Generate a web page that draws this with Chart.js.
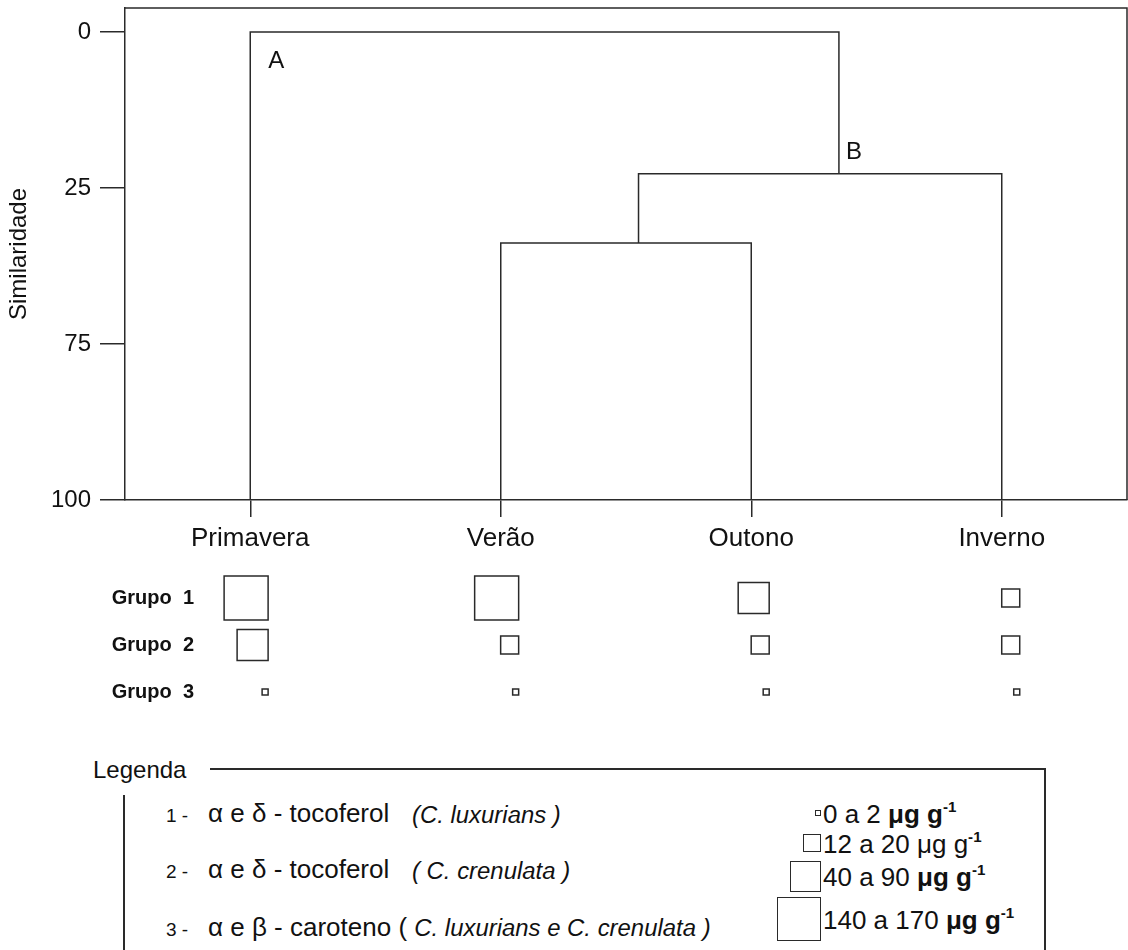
<!DOCTYPE html>
<html>
<head>
<meta charset="utf-8">
<script src="https://cdn.jsdelivr.net/npm/chart.js@4.4.0/dist/chart.umd.min.js"></script>
<style>
    body { margin: 0; background: #fff; }
    #page { position: relative; width: 1128px; height: 950px; overflow: hidden; background: #fff;
            font-family: "Liberation Sans", Arial, sans-serif; color: #111; }
    #dendro { position: absolute; left: 0; top: 0; }
    #groups { position: absolute; left: 0; top: 560px; }
    .rule { position: absolute; background: #2a2a2a; }
    .txt { position: absolute; white-space: pre; line-height: 1; }
    .txt i { font-size: 92%; }
    .sq { position: absolute; border: 1.5px solid #2a2a2a; box-sizing: border-box; }
    sup { font-size: 58%; vertical-align: 0.75em; line-height: 0; font-weight: bold; }
</style>
</head>
<body>
<div id="page">
    <canvas id="dendro" width="1128" height="560"></canvas>
    <canvas id="groups" width="1128" height="160"></canvas>
</div>
<script>
// Seasons (leaves of the dendrogram)
const seasons = ['Primavera', 'Verão', 'Outono', 'Inverno'];

// Y axis ticks (evenly spaced, labelled as in the figure)
const yTickValues = [0, 33.3, 66.7, 100];
const yTickLabels = ['0', '25', '75', '100'];

// Dendrogram links: Verão-Outono, B, A
const linkNames = ['', 'B', 'A'];
const linkHeights = [45.1, 30.3, 0];
const linkLeftX = [2, 2.55, 1];
const linkRightX = [3, 4, 3.35];
const linkLeftBase = [100, 45.1, 100];
const linkRightBase = [100, 100, 30.3];

// Size class (1..4) of each group per season
const groupNames = ['Grupo  1', 'Grupo  2', 'Grupo  3'];
const grupo1Classes = [4, 4, 3, 2];
const grupo2Classes = [3, 2, 2, 2];
const grupo3Classes = [1, 1, 1, 1];

// Legend
const classLabels = ['0 a 2', '12 a 20', '40 a 90', '140 a 170'];
const compoundNames = ['α e δ - tocoferol', 'α e δ - tocoferol', 'α e β - caroteno ('];
const speciesNames = ['(C. luxurians )', '( C. crenulata )', 'C. luxurians e C. crenulata )'];

const FONT = '"Liberation Sans", Arial, sans-serif';
const INK = '#2a2a2a';
const classSide = { 1: 6, 2: 18, 3: 31, 4: 44 };

// Build link datasets (U shaped lines)
const linkDatasets = linkHeights.map((h, i) => ({
    label: linkNames[i] || 'link',
    data: [
        { x: linkLeftX[i], y: linkLeftBase[i] },
        { x: linkLeftX[i], y: h },
        { x: linkRightX[i], y: h },
        { x: linkRightX[i], y: linkRightBase[i] }
    ],
    borderColor: INK,
    borderWidth: 1.5,
    pointRadius: 0,
    tension: 0,
    fill: false
}));

// Frame on top and right of the plot
const framePlugin = {
    id: 'frame',
    afterDraw(chart) {
        const { ctx, chartArea: a } = chart;
        ctx.save();
        ctx.strokeStyle = INK;
        ctx.lineWidth = 1.5;
        ctx.beginPath();
        ctx.moveTo(a.left, a.top);
        ctx.lineTo(a.right, a.top);
        ctx.lineTo(a.right, a.bottom);
        ctx.stroke();
        ctx.restore();
    }
};

// Cluster letters A and B
const letterPlugin = {
    id: 'letters',
    afterDatasetsDraw(chart) {
        const { ctx, scales: { x, y } } = chart;
        ctx.save();
        ctx.fillStyle = '#111';
        ctx.font = '24px ' + FONT;
        ctx.textAlign = 'left';
        ctx.textBaseline = 'middle';
        // A: under the top link, right of its left stem
        ctx.fillText(linkNames[2], x.getPixelForValue(linkLeftX[2]) + 18, y.getPixelForValue(linkHeights[2]) + 29);
        // B: above link B, right of the stem that goes up to A
        ctx.fillText(linkNames[1], x.getPixelForValue(linkRightX[2]) + 7, y.getPixelForValue(linkHeights[1]) - 21);
        ctx.restore();
    }
};

// stop the axis from reserving room for half labels
const noLabelPad = s => { s.paddingTop = 0; s.paddingBottom = 0; };

new Chart(document.getElementById('dendro'), {
    type: 'line',
    data: { datasets: linkDatasets },
    options: {
        responsive: false,
        animation: false,
        layout: { padding: { top: 8, right: 1, left: 0, bottom: 0 } },
        plugins: { legend: { display: false }, tooltip: { enabled: false } },
        scales: {
            x: {
                type: 'linear',
                min: 0.5,
                max: 4.5,
                afterBuildTicks: s => { s.ticks = seasons.map((_, i) => ({ value: i + 1 })); },
                afterFit: s => { s.height = 60; s.paddingLeft = 0; s.paddingRight = 0; },
                ticks: {
                    callback: v => seasons[v - 1],
                    font: { family: FONT, size: 26 },
                    color: '#111',
                    padding: 6,
                    autoSkip: false,
                    maxRotation: 0
                },
                grid: { drawOnChartArea: false, tickLength: 17, color: INK, lineWidth: 1.5 },
                border: { color: INK, width: 1.5 }
            },
            y: {
                type: 'linear',
                reverse: true,
                min: -5.14,
                max: 100,
                afterBuildTicks: s => { s.ticks = yTickValues.map(v => ({ value: v })); },
                afterFit: s => { s.width = 125; noLabelPad(s); },
                ticks: {
                    callback: (v, i) => yTickLabels[i],
                    font: { family: FONT, size: 24 },
                    color: '#111',
                    padding: 9,
                    autoSkip: false
                },
                grid: { drawOnChartArea: false, tickLength: 25, color: INK, lineWidth: 1.5 },
                border: { color: INK, width: 1.5 },
                title: {
                    display: true,
                    text: 'Similaridade',
                    font: { family: FONT, size: 24 },
                    color: '#111',
                    padding: { top: 5, bottom: 4 }
                }
            }
        }
    },
    plugins: [framePlugin, letterPlugin]
});

// Squares per group, right aligned next to the season stem
const groupClasses = [grupo1Classes, grupo2Classes, grupo3Classes];
const groupDatasets = groupClasses.map((classes, g) => ({
    label: groupNames[g],
    data: classes.map((c, s) => ({ x: s + 1, y: g + 1, c: c })),
    pointRadius: 0
}));

const squarePlugin = {
    id: 'squares',
    afterDatasetsDraw(chart) {
        const { ctx } = chart;
        ctx.save();
        ctx.strokeStyle = INK;
        ctx.lineWidth = 1.5;
        chart.data.datasets.forEach((ds, d) => {
            chart.getDatasetMeta(d).data.forEach((el, i) => {
                const side = classSide[ds.data[i].c];
                const right = el.x + 18;
                ctx.strokeRect(right - side, el.y - side / 2, side, side);
            });
        });
        ctx.restore();
    }
};

new Chart(document.getElementById('groups'), {
    type: 'scatter',
    data: { datasets: groupDatasets },
    options: {
        responsive: false,
        animation: false,
        layout: { padding: { top: 14.5, right: 1, left: 0, bottom: 4.5 } },
        plugins: { legend: { display: false }, tooltip: { enabled: false } },
        scales: {
            x: { type: 'linear', min: 0.8, max: 4.5, display: false },
            y: {
                type: 'linear',
                reverse: true,
                min: 0.5,
                max: 3.5,
                afterBuildTicks: s => { s.ticks = groupNames.map((_, i) => ({ value: i + 1 })); },
                afterFit: s => { s.width = 200; noLabelPad(s); },
                ticks: {
                    callback: v => groupNames[v - 1],
                    font: { family: FONT, size: 20, weight: 'bold' },
                    color: '#111',
                    padding: 6,
                    autoSkip: false
                },
                grid: { display: false, drawTicks: false },
                border: { display: false }
            }
        }
    },
    plugins: [squarePlugin]
});

// Legend box (HTML)
const page = document.getElementById('page');
function addEl(cls, style, html) {
    const el = document.createElement('div');
    el.className = cls;
    Object.assign(el.style, style);
    if (html !== undefined) el.innerHTML = html;
    page.appendChild(el);
    return el;
}
function addText(html, left, centerY, size, extra) {
    return addEl('txt', Object.assign({ left: left + 'px', top: (centerY - size / 2) + 'px', fontSize: size + 'px' }, extra || {}), html);
}

addText('Legenda', 93, 770, 24);
addEl('rule', { left: '210px', top: '768px', width: '836px', height: '1.5px' });
addEl('rule', { left: '1044px', top: '768px', width: '1.5px', height: '190px' });
addEl('rule', { left: '123px', top: '795px', width: '1.5px', height: '160px' });

const rowY = [813, 869, 927];
compoundNames.forEach((name, i) => {
    addText((i + 1) + ' -', 166, rowY[i] + 2, 19);
    if (i < 2) {
        addText(name, 208, rowY[i], 26);
        addText('<i>' + speciesNames[i] + '</i>', 412, rowY[i] + 1, 26);
    } else {
        addText(name + ' <i>' + speciesNames[i] + '</i>', 208, rowY[i], 26);
    }
});

const keyY = [813, 843, 876, 919];
const boldUnit = [true, false, true, true];
classLabels.forEach((lab, i) => {
    const side = classSide[i + 1];
    addEl('sq', { left: (821 - side) + 'px', top: (keyY[i] - side / 2) + 'px', width: side + 'px', height: side + 'px' });
    const unit = boldUnit[i] ? '<b>μg g</b>' : 'μg g';
    addText(lab + ' ' + unit + '<sup>-1</sup>', 823, keyY[i] + 1, 26);
});
</script>
</body>
</html>
